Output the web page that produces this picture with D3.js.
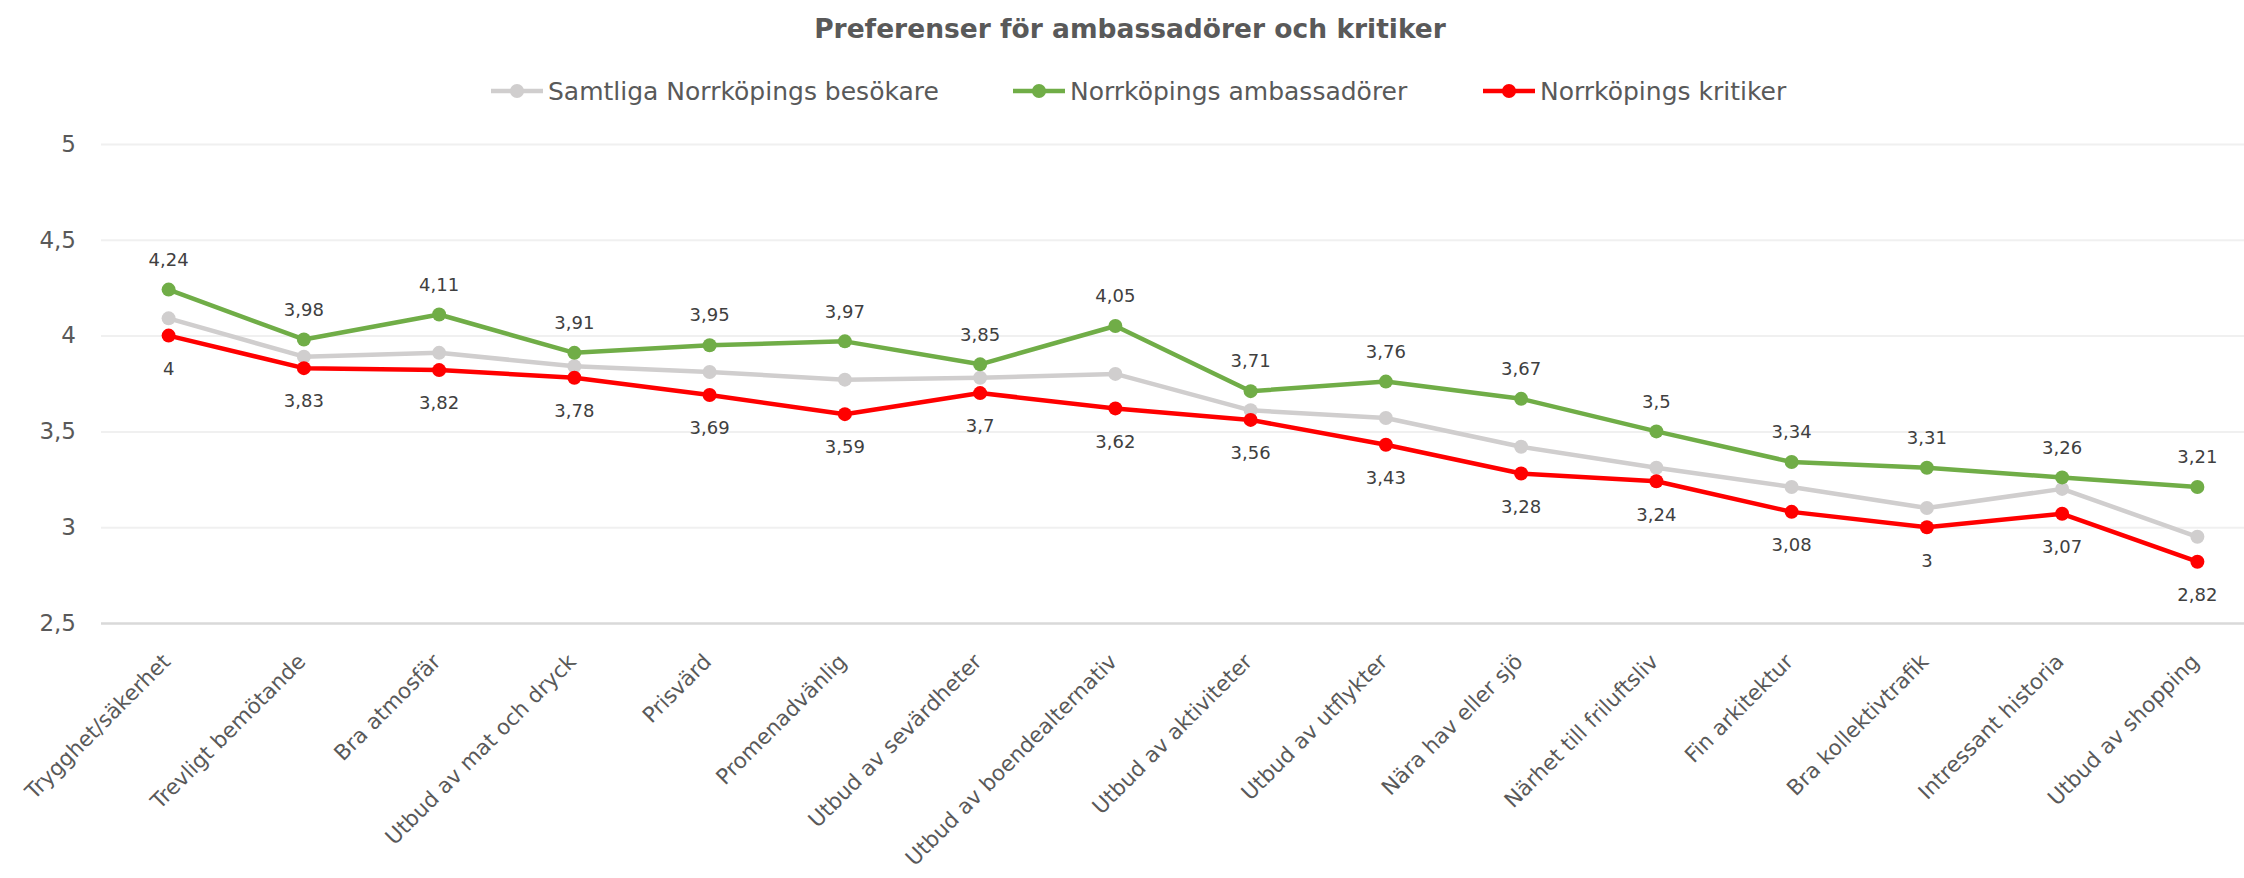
<!DOCTYPE html>
<html>
<head>
<meta charset="utf-8">
<script src="https://cdn.jsdelivr.net/npm/d3@7"></script>
<style>
  body { margin: 0; background: #fff; }
  svg { font-family: "DejaVu Sans", sans-serif; }
</style>
</head>
<body>
<svg id="chart"></svg>
<script>
const WIDTH = 2244, HEIGHT = 878;

// data
const categories = [
  "Trygghet/säkerhet", "Trevligt bemötande", "Bra atmosfär", "Utbud av mat och dryck",
  "Prisvärd", "Promenadvänlig", "Utbud av sevärdheter", "Utbud av boendealternativ",
  "Utbud av aktiviteter", "Utbud av utflykter", "Nära hav eller sjö", "Närhet till friluftsliv",
  "Fin arkitektur", "Bra kollektivtrafik", "Intressant historia", "Utbud av shopping"
];
const seriesNames = ["Samtliga Norrköpings besökare", "Norrköpings ambassadörer", "Norrköpings kritiker"];
const allVisitors = [4.09, 3.89, 3.91, 3.84, 3.81, 3.77, 3.78, 3.80, 3.61, 3.57, 3.42, 3.31, 3.21, 3.10, 3.20, 2.95];
const ambassadors = [4.24, 3.98, 4.11, 3.91, 3.95, 3.97, 3.85, 4.05, 3.71, 3.76, 3.67, 3.5, 3.34, 3.31, 3.26, 3.21];
const critics = [4, 3.83, 3.82, 3.78, 3.69, 3.59, 3.7, 3.62, 3.56, 3.43, 3.28, 3.24, 3.08, 3, 3.07, 2.82];
const yTicks = [2.5, 3, 3.5, 4, 4.5, 5];

const colors = ["#d0cece", "#70ad47", "#ff0000"];
const textColor = "#595959";

const margin = { top: 144, left: 101, bottom: 255 };
const plotRight = 2265;

const svg = d3.select("#chart").attr("width", WIDTH).attr("height", HEIGHT);

const x = d3.scalePoint().domain(categories).range([margin.left, plotRight]).padding(0.5);
const y = d3.scaleLinear().domain([2.5, 5]).range([HEIGHT - margin.bottom, margin.top]);

const fmt = (v) => String(v).replace(".", ",");

// title
svg.append("text")
  .attr("x", 1130).attr("y", 29)
  .attr("dy", "0.35em")
  .attr("text-anchor", "middle")
  .attr("font-size", 26.5).attr("font-weight", "bold")
  .attr("fill", textColor)
  .text("Preferenser för ambassadörer och kritiker");

// legend
const legendX = [491, 1013, 1483];
const legend = svg.append("g").attr("class", "legend");
seriesNames.forEach((name, i) => {
  const g = legend.append("g").attr("transform", `translate(${legendX[i]}, 91)`);
  g.append("line").attr("x1", 0).attr("x2", 52)
    .attr("stroke", colors[i]).attr("stroke-width", 4.5);
  g.append("circle").attr("cx", 26).attr("r", 7).attr("fill", colors[i]);
  g.append("text").attr("x", 57).attr("dy", "0.35em")
    .attr("font-size", 25).attr("fill", textColor).text(name);
});

// gridlines
const grid = svg.append("g")
  .attr("transform", `translate(${margin.left},0)`)
  .call(d3.axisLeft(y).tickValues(yTicks).tickSize(-(plotRight - margin.left)).tickFormat(""));
grid.select(".domain").remove();
grid.selectAll(".tick line")
  .attr("stroke", (d) => d === 2.5 ? "#d9d9d9" : "#f0f0f0")
  .attr("stroke-width", (d) => d === 2.5 ? 2.5 : 2);

// y axis labels
const yAxis = svg.append("g")
  .attr("transform", `translate(${margin.left},0)`)
  .call(d3.axisLeft(y).tickValues(yTicks).tickSize(0).tickPadding(25).tickFormat(fmt));
yAxis.select(".domain").remove();
yAxis.selectAll("text").attr("font-size", 23).attr("fill", textColor).attr("font-family", "DejaVu Sans");

// x axis labels
const xAxis = svg.append("g").attr("class", "x-axis");
xAxis.selectAll("text")
  .data(categories)
  .join("text")
  .attr("transform", (d) => `translate(${x(d) + 3}, ${y(2.5) + 40}) rotate(-45)`)
  .attr("text-anchor", "end")
  .attr("font-size", 21.5)
  .attr("fill", textColor)
  .text((d) => d);

// lines
const series = [allVisitors, ambassadors, critics];
const line = d3.line().x((d, i) => x(categories[i])).y((d) => y(d));

series.forEach((values, s) => {
  const g = svg.append("g").attr("class", "series");
  g.append("path")
    .datum(values)
    .attr("d", line)
    .attr("fill", "none")
    .attr("stroke", colors[s])
    .attr("stroke-width", 4.5)
    .attr("stroke-linejoin", "round");
  g.selectAll("circle")
    .data(values)
    .join("circle")
    .attr("cx", (d, i) => x(categories[i]))
    .attr("cy", (d) => y(d))
    .attr("r", 7)
    .attr("fill", colors[s]);
});

// data labels: ambassadors above, critics below
svg.append("g").selectAll("text")
  .data(ambassadors)
  .join("text")
  .attr("x", (d, i) => x(categories[i]))
  .attr("y", (d) => y(d) - 30)
  .attr("dy", "0.35em")
  .attr("text-anchor", "middle")
  .attr("font-size", 18)
  .attr("fill", "#404040")
  .text(fmt);

svg.append("g").selectAll("text")
  .data(critics)
  .join("text")
  .attr("x", (d, i) => x(categories[i]))
  .attr("y", (d) => y(d) + 33)
  .attr("dy", "0.35em")
  .attr("text-anchor", "middle")
  .attr("font-size", 18)
  .attr("fill", "#404040")
  .text(fmt);
</script>
</body>
</html>
